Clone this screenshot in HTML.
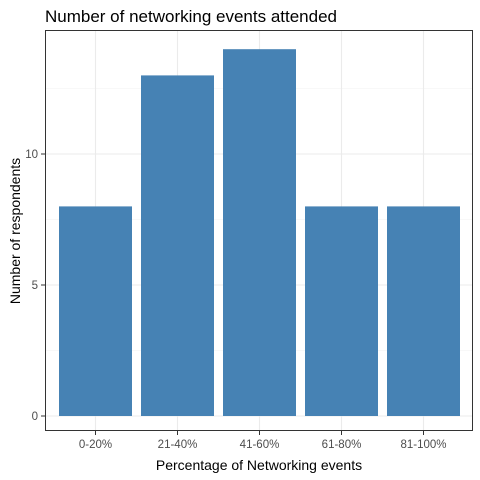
<!DOCTYPE html>
<html><head><meta charset="utf-8"><style>
body{margin:0;background:#fff;}
svg{display:block;font-family:"Liberation Sans",Arial,sans-serif;}
</style></head><body>
<svg id="chart" width="480" height="480">
<rect width="480" height="480" fill="#fff"/>
<g id="grid"></g>
<g id="bars"></g>
<rect x="45.5" y="30.5" width="427" height="400" fill="none" stroke="#333" stroke-width="1"/>
<g id="axes"></g>
<text x="45" y="22" font-size="17" fill="#000">Number of networking events attended</text>
<text x="259" y="470" font-size="14" text-anchor="middle" fill="#000">Percentage of Networking events</text>
<text transform="translate(20,231) rotate(-90)" font-size="14" text-anchor="middle" fill="#000">Number of respondents</text>
</svg>
<script>
const categories=["0-20%","21-40%","41-60%","61-80%","81-100%"];
const counts=[8,13,14,8,8];
const yTicks=[0,5,10];
const yMinor=[2.5,7.5,12.5];
const NS="http://www.w3.org/2000/svg";
const y0=416,pxPerUnit=26.2;
function yScale(v){return y0-v*pxPerUnit;}
function xScale(i){return 95.5+i*82;}
const bw=73;
function mk(tag,attrs,parent){const e=document.createElementNS(NS,tag);for(const k in attrs)e.setAttribute(k,attrs[k]);document.getElementById(parent).appendChild(e);return e;}
yMinor.forEach(v=>{const l=mk('line',{x1:46,x2:472,y1:yScale(v),y2:yScale(v),stroke:'#f2f2f2','stroke-width':0.6},'grid');

});
yTicks.forEach(v=>{const l=mk('line',{x1:46,x2:472,y1:yScale(v),y2:yScale(v),stroke:'#ebebeb','stroke-width':1.1},'grid');


const t=mk('line',{x1:41,x2:45,y1:yScale(v),y2:yScale(v),stroke:'#333'},'axes');


const tx=mk('text',{x:38,y:yScale(v)+4,'font-size':11.5,'text-anchor':'end',fill:'#4d4d4d'},'axes');tx.textContent=v;

});
categories.forEach((c,i)=>{const g=mk('line',{x1:xScale(i),x2:xScale(i),y1:31,y2:430,stroke:'#ebebeb','stroke-width':1.1},'grid');


const b=mk('rect',{x:xScale(i)-bw/2,y:yScale(counts[i]),width:bw,height:y0-yScale(counts[i]),fill:'#4682b4'},'bars');


const t=mk('line',{x1:xScale(i),x2:xScale(i),y1:431,y2:435,stroke:'#333'},'axes');


const tx=mk('text',{x:xScale(i),y:448,'font-size':11.5,'text-anchor':'middle',fill:'#4d4d4d'},'axes');tx.textContent=c;

});
</script>
</body></html>
